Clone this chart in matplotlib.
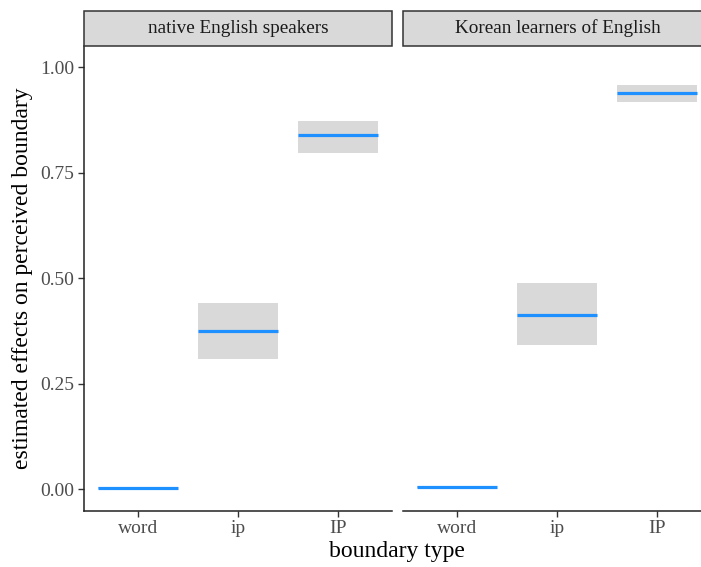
import matplotlib
matplotlib.use("Agg")
import matplotlib.pyplot as plt
from matplotlib.patches import Rectangle

plt.rcParams['font.family'] = ['Liberation Serif', 'DejaVu Serif']

boundary = ["word", "ip", "IP"]
panels = ["native English speakers", "Korean learners of English"]

est_native = [0.004, 0.375, 0.839]
lo_native = [0.002, 0.310, 0.796]
hi_native = [0.006, 0.442, 0.873]

est_korean = [0.005, 0.414, 0.940]
lo_korean = [0.003, 0.341, 0.918]
hi_korean = [0.007, 0.490, 0.957]

W, H = 701, 567
fig = plt.figure(figsize=(W / 100, H / 100), dpi=100)

def frac(x0, y0, x1, y1):
    # pixel box (top-left origin) -> figure fraction rect
    return [x0 / W, (H - y1) / H, (x1 - x0) / W, (y1 - y0) / H]

top, bot = 46, 510.7
boxes = [(84, 392, (0.46, 3.54)), (403, 701, (0.46, 3.44))]
data = [(est_native, lo_native, hi_native), (est_korean, lo_korean, hi_korean)]

bw = 0.8
for i, ((x0, x1, xl), (est, lo, hi), title) in enumerate(zip(boxes, data, panels)):
    ax = fig.add_axes(frac(x0, top, x1, bot))
    xs = list(range(1, len(boundary) + 1))
    for x, e, l, h in zip(xs, est, lo, hi):
        ax.add_patch(Rectangle((x - bw / 2, l), bw, h - l, facecolor="#D9D9D9",
                               edgecolor="none", zorder=1))
        ax.plot([x - bw / 2, x + bw / 2], [e, e], color="#1E90FF", lw=2.3,
                solid_capstyle="butt", zorder=2)
    ax.set_xlim(*xl)
    ax.set_ylim(-0.0505, 1.0505)
    ax.set_xticks(xs)
    ax.set_xticklabels(boundary)
    ax.set_yticks([0, 0.25, 0.5, 0.75, 1.0])
    ax.set_yticklabels(["0.00", "0.25", "0.50", "0.75", "1.00"])
    for s in ["top", "right"]:
        ax.spines[s].set_visible(False)
    ax.spines["bottom"].set_linewidth(1.1)
    ax.spines["bottom"].set_color("#222222")
    ax.spines["left"].set_linewidth(1.1)
    ax.spines["left"].set_color("#222222")
    ax.tick_params(axis="both", length=4, width=1, color="#333333",
                   labelcolor="#4D4D4D", labelsize=14, pad=3)
    if i == 1:
        ax.spines["left"].set_visible(False)
        ax.tick_params(axis="y", left=False, labelleft=False)
    else:
        ax.set_ylabel("estimated effects on perceived boundary", fontsize=17,
                      color="black", labelpad=5)
    # facet strip
    sx = frac(x0, 11, x1 + (4 if i == 1 else 0), top)
    fig.patches.append(Rectangle((sx[0], sx[1]), sx[2], sx[3], transform=fig.transFigure,
                                 facecolor="#D9D9D9", edgecolor="#333333", lw=1.1))
    fig.text(sx[0] + sx[2] / 2 if i == 0 else (x0 + 155) / W, sx[1] + sx[3] / 2, title,
             ha="center", va="center", fontsize=13.8, color="#1A1A1A")

fig.text(397 / W, (H - 551) / H, "boundary type", ha="center", va="center",
         fontsize=17, color="black")

fig.savefig("out.png", dpi=100)
